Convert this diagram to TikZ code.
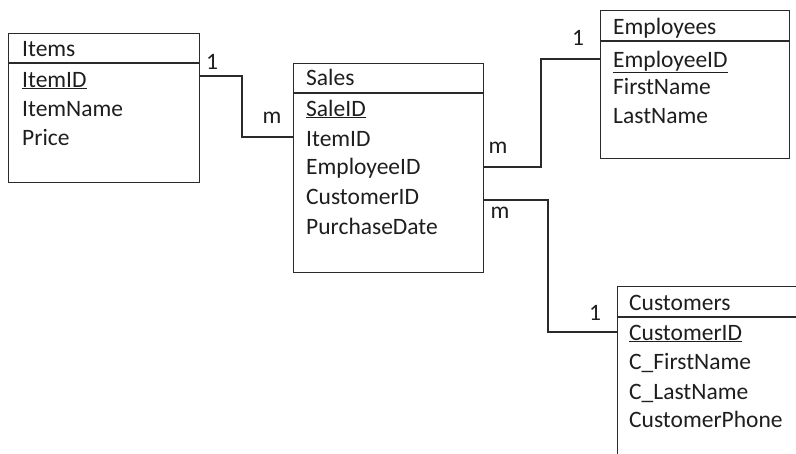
\documentclass[tikz,border=0pt]{standalone}
\usepackage{fontspec}
\setmainfont{Carlito}
\definecolor{ln}{HTML}{2A2A2A}
\definecolor{tx}{HTML}{1E1E1E}
\begin{document}
\begin{tikzpicture}[x=1pt,y=-1pt,
  tbl/.style={draw=ln, line width=1.1pt, anchor=north west, inner sep=0pt},
  fld/.style={anchor=base west, inner sep=0pt, text=tx, font=\fontsize{23.5}{27}\selectfont},
  card/.style={inner sep=0pt, text=tx, font=\fontsize{23.5}{27}\selectfont},
  link/.style={draw=ln, line width=1.1pt}]
\clip (0,0) rectangle (796,453);
\fill[white] (0,0) rectangle (796,453);

% Items
\node[tbl, minimum width=191pt, minimum height=149pt] (items) at (8,33) {};
\draw[ln, line width=1.1pt] (items.west |- 0,63) -- (items.east |- 0,63);
\node[fld] (itemsT) at (22,56) {Items};
\node[fld] (itemsA) at (22,87) {\underline{ItemID}};
\node[fld] (itemsB) at (22,116) {ItemName};
\node[fld] (itemsC) at (22,145) {Price};

% Sales
\node[tbl, minimum width=190pt, minimum height=209pt] (sales) at (293,63) {};
\draw[ln, line width=1.1pt] (sales.west |- 0,93) -- (sales.east |- 0,93);
\node[fld] (salesT) at (306,85) {Sales};
\node[fld] (salesA) at (306,116) {\underline{SaleID}};
\node[fld] (salesB) at (306,146) {ItemID};
\node[fld] (salesC) at (306,174) {EmployeeID};
\node[fld] (salesD) at (306,204) {CustomerID};
\node[fld] (salesE) at (306,234) {PurchaseDate};

% Employees
\node[tbl, minimum width=189pt, minimum height=148pt] (emp) at (600,10) {};
\draw[ln, line width=1.1pt] (emp.west |- 0,41) -- (emp.east |- 0,41);
\node[fld] (empT) at (613,34) {Employees};
\node[fld] (empA) at (613,67) {\underline{EmployeeID}};
\node[fld] (empB) at (613,94) {FirstName};
\node[fld] (empC) at (613,123) {LastName};

% Customers (runs off the page)
\node[tbl, minimum width=200pt, minimum height=200pt] (cust) at (617,286) {};
\draw[ln, line width=1.1pt] (cust.west |- 0,317) -- (cust.east |- 0,317);
\node[fld] (custT) at (629,310) {Customers};
\node[fld] (custA) at (629,340) {\underline{CustomerID}};
\node[fld] (custB) at (629,369) {C\_FirstName};
\node[fld] (custC) at (629,399) {C\_LastName};
\node[fld] (custD) at (629,427) {CustomerPhone};

% Connectors
\draw[link] (items.east |- 0,76) -| (242,137) -- (sales.west |- 0,137);
\draw[link] (sales.east |- 0,167) -| (541,59) -- (emp.west |- 0,59);
\draw[link] (sales.east |- 0,200) -| (548,332) -- (cust.west |- 0,332);

% Cardinalities
\node[card] (k1) at (212,62) {1};
\node[card] (k2) at (272,118) {m};
\node[card] (k3) at (578,38) {1};
\node[card] (k4) at (498,148) {m};
\node[card] (k5) at (500,213) {m};
\node[card] (k6) at (595,313) {1};
\end{tikzpicture}
\end{document}
